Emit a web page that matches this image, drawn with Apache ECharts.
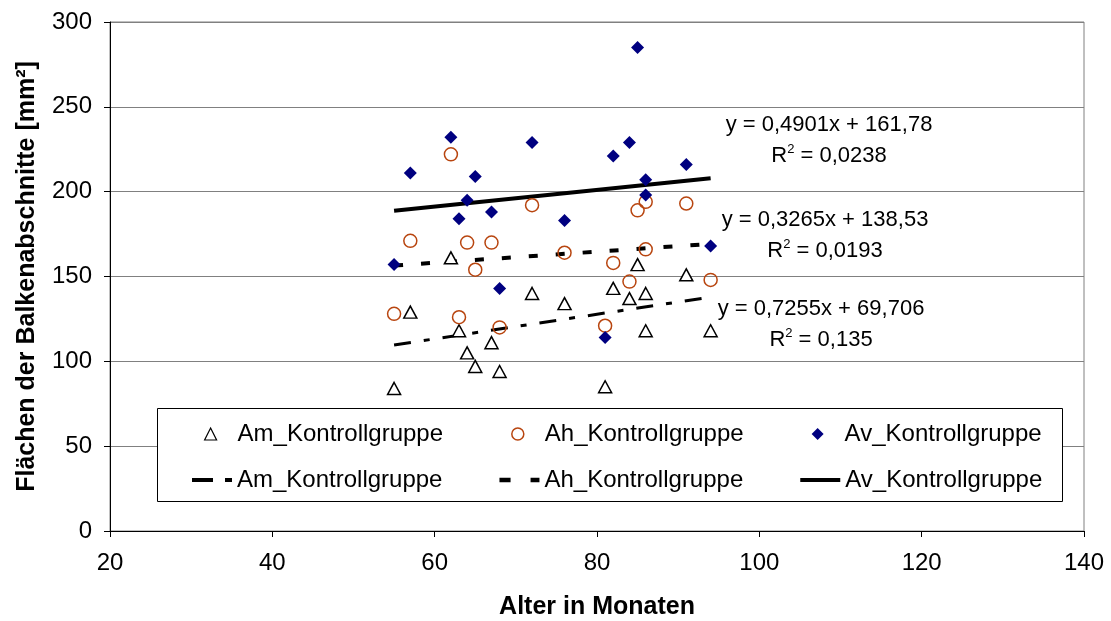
<!DOCTYPE html>
<html>
<head>
<meta charset="utf-8">
<script src="https://cdn.jsdelivr.net/npm/echarts@6/dist/echarts.min.js"></script>
<style>
  html, body { margin: 0; padding: 0; background: #fff; }
  #chart { width: 1111px; height: 621px; }
</style>
</head>
<body>
<div id="chart"></div>
<script>
// Age in months of each animal (shared by all three measurements)
const ageMonths = [55, 57, 62, 63, 64, 65, 67, 68, 72, 76, 81, 82, 84, 85, 86, 86, 91, 94];

// Cross-section areas [mm²] per group
const amValues = [84, 129, 161, 118, 105, 97, 111, 94, 140, 134, 85, 143, 137, 157, 140, 118, 151, 118];
const ahValues = [128, 171, 222, 126, 170, 154, 170, 120, 192, 164, 121, 158, 147, 189, 194, 166, 193, 148];
const avValues = [157, 211, 232, 184, 195, 209, 188, 143, 229, 183, 114, 221, 229, 285, 207, 198, 216, 168];

// Linear trend coefficients [slope, intercept] and R² as printed
const amTrend = [0.7255, 69.706];
const ahTrend = [0.3265, 138.53];
const avTrend = [0.4901, 161.78];
const amR2 = '0,135';
const ahR2 = '0,0193';
const avR2 = '0,0238';

const seriesNames = ['Am_Kontrollgruppe', 'Ah_Kontrollgruppe', 'Av_Kontrollgruppe'];
const TREND = ' Trend';

const xAxisTicks = [20, 40, 60, 80, 100, 120, 140];
const yAxisTicks = [0, 50, 100, 150, 200, 250, 300];

const FONT = '"Liberation Sans", Arial, sans-serif';

// Dash patterns of the three trend lines
const amDash = [17, 13, 6, 13];
const ahDash = [9, 18];

// Legend swatches for the trend lines (dash segments as filled bars)
const amLegendIcon = 'path://M0,0h21v4h-21z M33,0h7v4h-7z';
const ahLegendIcon = 'path://M0,0h10v4h-10z M28,0h8v4h-8z';
const avLegendIcon = 'path://M0,0h40v4h-40z';

function pairs(values) {
  return ageMonths.map((a, i) => [a, values[i]]);
}
// Trend line spans the observed age range
function trendLine(coef) {
  const x0 = Math.min.apply(null, ageMonths);
  const x1 = Math.max.apply(null, ageMonths);
  return [[x0, coef[0] * x0 + coef[1]], [x1, coef[0] * x1 + coef[1]]];
}
function eqText(coef) {
  return 'y = ' + String(coef[0]).replace('.', ',') + 'x + ' + String(coef[1]).replace('.', ',');
}

const chart = echarts.init(document.getElementById('chart'), null, { renderer: 'canvas' });

function eqGraphic(x, y, coef, r2) {
  return [
    {
      type: 'text', x: x, y: y, z: 70,
      style: {
        text: eqText(coef), textAlign: 'center', textVerticalAlign: 'middle',
        fontSize: 22, fontFamily: FONT, fill: '#000'
      }
    },
    {
      type: 'text', x: x, y: y + 30, z: 70,
      style: {
        text: '{a|R}{s|2}{a| = ' + r2 + '}',
        textAlign: 'center', textVerticalAlign: 'middle',
        fontFamily: FONT, fill: '#000',
        rich: {
          a: { fontSize: 22, fontFamily: FONT, lineHeight: 24, verticalAlign: 'bottom' },
          s: { fontSize: 13, fontFamily: FONT, lineHeight: 24, verticalAlign: 'top', padding: [0, 0, 6, 0] }
        }
      }
    }
  ];
}

const option = {
  backgroundColor: '#fff',
  animation: false,
  textStyle: { fontFamily: FONT },
  grid: {
    left: 110, right: 27, top: 22, bottom: 90,
    outerBoundsMode: 'none', containLabel: false,
    show: true, borderColor: '#808080', borderWidth: 1, backgroundColor: 'transparent'
  },
  xAxis: {
    type: 'value', min: xAxisTicks[0], max: xAxisTicks[xAxisTicks.length - 1], interval: 20,
    name: 'Alter in Monaten', nameLocation: 'middle', nameGap: 64,
    nameTextStyle: { fontSize: 25, fontWeight: 'bold', color: '#000', fontFamily: FONT },
    axisLine: { lineStyle: { color: '#000', width: 1 } },
    axisTick: { show: true, inside: false, length: 6, lineStyle: { color: '#000' } },
    axisLabel: { fontSize: 24, color: '#000', margin: 20, fontFamily: FONT },
    splitLine: { show: false }
  },
  yAxis: {
    type: 'value', min: yAxisTicks[0], max: yAxisTicks[yAxisTicks.length - 1], interval: 50,
    name: 'Flächen der Balkenabschnitte [mm²]', nameLocation: 'middle', nameGap: 70, nameRotate: 90,
    nameTextStyle: { fontSize: 25, fontWeight: 'bold', color: '#000', fontFamily: FONT },
    axisLine: { show: true, lineStyle: { color: '#000', width: 1 } },
    axisTick: { show: true, inside: false, length: 6, lineStyle: { color: '#000' } },
    axisLabel: { fontSize: 24, color: '#000', margin: 18, fontFamily: FONT },
    splitLine: { show: true, lineStyle: { color: '#808080', width: 1 } }
  },
  legend: [
    {
      // markers row
      left: 199, top: 417, itemWidth: 12, itemHeight: 12, itemGap: 68, z: 60,
      selectedMode: false,
      textStyle: { fontSize: 24, color: '#000', fontFamily: FONT, padding: [0, 0, 0, 16] },
      data: [
        { name: seriesNames[0], icon: 'triangle', itemStyle: { color: '#fff', borderColor: '#000', borderWidth: 1.2 } },
        { name: seriesNames[1], icon: 'circle', itemStyle: { color: '#fff', borderColor: '#B8450F', borderWidth: 1.5 } },
        { name: seriesNames[2], icon: 'diamond', itemStyle: { color: '#000080', borderWidth: 0 } }
      ]
    },
    {
      // trend line row
      left: 187, top: 463, itemWidth: 40, itemHeight: 14, itemGap: 57, z: 60,
      selectedMode: false,
      formatter: name => name.replace(TREND, ''),
      textStyle: { fontSize: 24, color: '#000', fontFamily: FONT },
      data: [
        { name: seriesNames[0] + TREND, icon: amLegendIcon, itemStyle: { color: '#000', borderWidth: 0 } },
        { name: seriesNames[1] + TREND, icon: ahLegendIcon, itemStyle: { color: '#000', borderWidth: 0 } },
        { name: seriesNames[2] + TREND, icon: avLegendIcon, itemStyle: { color: '#000', borderWidth: 0 } }
      ]
    }
  ],
  graphic: [
    {
      type: 'rect', left: 157, top: 408, z: 50,
      shape: { width: 905, height: 93 },
      style: { fill: '#fff', stroke: '#000', lineWidth: 1 }
    }
  ].concat(
    eqGraphic(829, 125, avTrend, avR2),
    eqGraphic(825, 220, ahTrend, ahR2),
    eqGraphic(821, 309, amTrend, amR2)
  ),
  series: [
    {
      name: seriesNames[0] + TREND, type: 'line', data: trendLine(amTrend),
      symbol: 'none', itemStyle: { color: '#000' },
      lineStyle: { color: '#000', width: 3, type: amDash }, z: 3
    },
    {
      name: seriesNames[1] + TREND, type: 'line', data: trendLine(ahTrend),
      symbol: 'none', itemStyle: { color: '#000' },
      lineStyle: { color: '#000', width: 4, type: ahDash }, z: 3
    },
    {
      name: seriesNames[2] + TREND, type: 'line', data: trendLine(avTrend),
      symbol: 'none', itemStyle: { color: '#000' },
      lineStyle: { color: '#000', width: 4, type: 'solid' }, z: 3
    },
    {
      name: seriesNames[0], type: 'scatter', data: pairs(amValues),
      symbol: 'triangle', symbolSize: [13, 12],
      itemStyle: { color: '#fff', borderColor: '#000', borderWidth: 1.5, opacity: 1 }, z: 4
    },
    {
      name: seriesNames[1], type: 'scatter', data: pairs(ahValues),
      symbol: 'circle', symbolSize: 13,
      itemStyle: { color: 'rgba(255,255,255,0)', borderColor: '#B8450F', borderWidth: 1.5, opacity: 1 }, z: 4
    },
    {
      name: seriesNames[2], type: 'scatter', data: pairs(avValues),
      symbol: 'diamond', symbolSize: 13,
      itemStyle: { color: '#000080', opacity: 1 }, z: 4
    }
  ]
};

chart.setOption(option);
</script>
</body>
</html>
